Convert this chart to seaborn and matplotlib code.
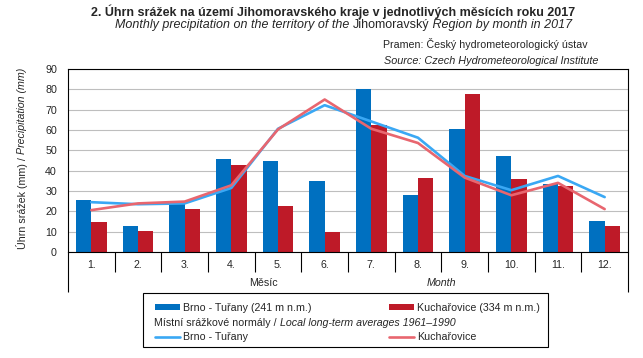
import matplotlib
matplotlib.use("Agg")
import matplotlib.pyplot as plt
import matplotlib.patches as mpatches
from matplotlib.lines import Line2D
import numpy as np
import pandas as pd
import seaborn as sns

# monthly totals 2017 (mm)
months = ["1.", "2.", "3.", "4.", "5.", "6.", "7.", "8.", "9.", "10.", "11.", "12."]
brno = [25.5, 12.7, 24.0, 45.6, 44.6, 34.8, 80.4, 27.9, 60.3, 47.1, 33.3, 15.2]
kuch = [14.7, 10.3, 21.1, 42.6, 22.5, 9.8, 62.3, 36.3, 77.9, 35.8, 32.4, 12.7]
# long-term averages 1961-1990 (mm)
brno_norm = [24.5, 23.5, 23.9, 31.5, 60.6, 72.2, 64.2, 56.2, 37.4, 30.4, 37.4, 27.0]
kuch_norm = [20.6, 23.9, 24.8, 32.8, 60.3, 75.0, 60.6, 53.6, 36.6, 27.9, 34.0, 21.1]

stations = ["Brno - Tuřany (241 m n.m.)", "Kuchařovice (334 m n.m.)"]
norm_names = ["Brno - Tuřany", "Kuchařovice"]

BAR_BLUE = "#0070C0"
BAR_RED = "#BE1A28"
LINE_BLUE = "#3AA8F4"
LINE_RED = "#E8666F"

W, H = 643, 358
FONT = "Liberation Sans"

sns.set_style("white")
plt.rcParams["font.family"] = [FONT, "DejaVu Sans"]
plt.rcParams["font.size"] = 7.7


def fx(px):
    return px / W


def fy(py):
    return 1 - py / H


def chain_text(fig, x, y, parts, **kw):
    # draw text pieces one after another, left to right
    r = fig.canvas.get_renderer()
    for s, style in parts:
        t = fig.text(fx(x), fy(y), s, style=style, va="center", ha="left", **kw)
        bb = t.get_window_extent(r)
        x += bb.width
    return x


def chain_vtext(fig, x, y, parts, **kw):
    # rotated pieces, bottom to top
    r = fig.canvas.get_renderer()
    for s, style in parts:
        t = fig.text(fx(x), fy(y), s, style=style, rotation=90,
                     ha="center", va="bottom", **kw)
        bb = t.get_window_extent(r)
        y -= bb.height


def one_legend(fig, handle, label, x, y):
    fig.legend([handle], [label], loc="center left",
               bbox_to_anchor=(fx(x), fy(y)), frameon=False,
               borderpad=0, borderaxespad=0, handlelength=2.35,
               handletextpad=0.3, handleheight=0.45, fontsize=7.7)


bars = pd.DataFrame({
    "month": months * 2,
    "value": brno + kuch,
    "station": [stations[0]] * 12 + [stations[1]] * 12,
})

fig = plt.figure(figsize=(W / 100, H / 100), dpi=100)
ax = fig.add_axes([fx(68), fy(252), fx(628) - fx(68), fy(69) - fy(252)])

sns.barplot(data=bars, x="month", y="value", hue="station",
            palette=[BAR_BLUE, BAR_RED], width=0.66, saturation=1,
            linewidth=0, legend=False, ax=ax)
pos = np.arange(len(months))
sns.lineplot(x=pos, y=brno_norm, color=LINE_BLUE, lw=1.9, ax=ax)
sns.lineplot(x=pos, y=kuch_norm, color=LINE_RED, lw=1.9, ax=ax)

ax.set_xlim(-0.5, 11.5)
ax.set_ylim(0, 90)
ax.set_yticks(range(0, 91, 10))
ax.yaxis.grid(True, color="#BEBEBE", lw=0.8)
ax.set_axisbelow(True)
ax.set_xticks(pos, months)
ax.tick_params(axis="both", length=0, labelsize=7.7)
ax.tick_params(axis="x", pad=6)
ax.tick_params(axis="y", pad=8)
ax.set_xlabel("")
ax.set_ylabel("")
for sp in ax.spines.values():
    sp.set_visible(True)
    sp.set_color("black")
    sp.set_linewidth(0.8)

# multi-level category separators
tr = ax.get_xaxis_transform()
ax.vlines(np.arange(0.5, 11, 1), 0, -20 / 183, transform=tr, color="black",
          lw=0.8, clip_on=False)
ax.vlines([-0.5, 11.5], 0, -40 / 183, transform=tr, color="black",
          lw=0.8, clip_on=False)

fig.text(fx(263), fy(283), "Měsíc", ha="center", va="center", fontsize=7.7)
fig.text(fx(441), fy(283), "Month", ha="center", va="center", fontsize=7.7,
         style="italic")

fig.canvas.draw()

# titles
fig.text(fx(333), fy(12), "2. Úhrn srážek na území Jihomoravského kraje "
         "v jednotlivých měsících roku 2017", ha="center", va="center",
         fontsize=9, fontweight="bold")
chain_text(fig, 115, 25, [
    ("Monthly precipitation on the territory of the ", "italic"),
    ("Jihomoravský", "normal"),
    (" Region by month in 2017", "italic"),
], fontsize=9)
fig.text(fx(383), fy(44), "Pramen: Český hydrometeorologický ústav",
         ha="left", va="center", fontsize=7.7)
fig.text(fx(384), fy(61), "Source: Czech Hydrometeorological Institute",
         ha="left", va="center", fontsize=7.8, style="italic")

chain_vtext(fig, 22, 249, [
    ("Úhrn srážek (mm) / ", "normal"),
    ("Precipitation (mm)", "italic"),
], fontsize=7.7)

# legend box
fig.add_artist(mpatches.Rectangle((fx(143), fy(347)), fx(548) - fx(143),
                                  fy(293) - fy(347), transform=fig.transFigure,
                                  fill=False, ec="black", lw=0.8))
one_legend(fig, mpatches.Patch(color=BAR_BLUE, lw=0), stations[0], 155, 308)
one_legend(fig, mpatches.Patch(color=BAR_RED, lw=0), stations[1], 389, 308)
chain_text(fig, 154, 323, [
    ("Místní srážkové normály / ", "normal"),
    ("Local long-term averages 1961–1990", "italic"),
], fontsize=7.7)
one_legend(fig, Line2D([], [], color=LINE_BLUE, lw=1.9), norm_names[0], 155, 337)
one_legend(fig, Line2D([], [], color=LINE_RED, lw=1.9), norm_names[1], 389, 337)

fig.savefig("out.png", dpi=100)
